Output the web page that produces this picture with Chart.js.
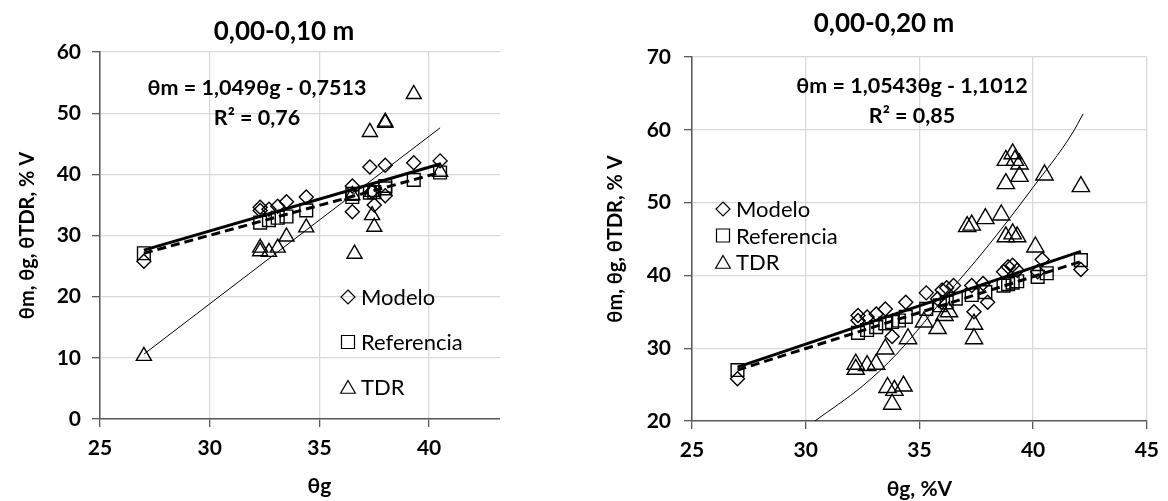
<!DOCTYPE html>
<html>
<head>
<meta charset="utf-8">
<script src="https://cdn.jsdelivr.net/npm/chart.js@4.4.1/dist/chart.umd.min.js"></script>
<style>
  body { margin: 0; background: #fff; width: 1168px; height: 501px; overflow: hidden; position: relative; }
  #leftWrap { position: absolute; left: 0; top: 0; width: 500px; height: 501px; overflow: hidden; }
  #rightWrap { position: absolute; left: 580px; top: 0; width: 588px; height: 501px; }
</style>
</head>
<body>
<div id="leftWrap"><canvas id="chartLeft" width="560" height="501"></canvas></div>
<div id="rightWrap"><canvas id="chartRight" width="588" height="501"></canvas></div>
<script>
// ---- 0,00-0,10 m ----
const leftModeloX = [27.0, 32.3, 32.3, 32.7, 33.1, 33.5, 34.4, 36.5, 36.5, 37.3, 37.4, 37.5, 38.0, 38.0, 39.3, 40.5];
const leftModeloY = [25.8, 34.6, 34.1, 34.3, 34.8, 35.5, 36.3, 38.1, 33.9, 41.2, 37.2, 35.0, 41.5, 36.5, 41.9, 42.2];
const leftRefX = [27.0, 32.3, 32.7, 33.1, 33.5, 34.4, 36.5, 36.5, 37.3, 37.5, 38.0, 38.0, 39.3, 40.5];
const leftRefY = [27.1, 32.1, 32.5, 32.9, 33.1, 34.1, 36.3, 36.8, 37.0, 37.1, 37.7, 38.1, 39.1, 40.3];
const leftTdrX = [27.0, 32.3, 32.3, 32.7, 33.1, 33.5, 34.4, 36.5, 36.6, 37.3, 37.4, 37.4, 37.5, 38.0, 38.0, 39.3, 40.5];
const leftTdrY = [10.3, 28.0, 27.4, 27.3, 28.0, 29.8, 31.3, 36.6, 27.0, 46.9, 37.1, 33.3, 31.4, 48.4, 48.6, 53.1, 40.4];
// trend lines (end points)
const leftTrendX = [27.0, 40.5];
const leftTrendModeloY = [27.6, 41.7];
const leftTrendRefY = [27.1, 40.3];
const leftTrendTdrY = [10.6, 47.6];

// ---- 0,00-0,20 m ----
const rightModeloX = [27.0, 32.3, 32.3, 32.7, 33.1, 33.5, 33.8, 34.4, 35.3, 35.8, 36.0, 36.2, 36.5, 37.3, 37.4, 37.8, 38.0, 38.7, 38.9, 39.1, 39.3, 40.2, 40.4, 42.1];
const rightModeloY = [25.8, 34.5, 33.8, 34.3, 34.7, 35.4, 31.6, 36.3, 37.6, 36.8, 38.0, 38.3, 38.6, 38.6, 35.0, 38.9, 36.3, 40.5, 41.2, 41.4, 40.7, 40.5, 42.2, 40.8];
const rightRefX = [27.0, 32.3, 32.7, 33.1, 33.5, 33.8, 34.1, 34.4, 35.3, 35.9, 36.2, 36.6, 37.3, 37.9, 38.7, 38.9, 39.1, 39.3, 40.2, 40.6, 42.1];
const rightRefY = [27.0, 32.1, 32.5, 32.9, 33.4, 33.6, 33.8, 34.3, 35.4, 35.9, 36.3, 36.8, 37.3, 37.7, 38.6, 38.8, 39.0, 39.2, 39.8, 40.3, 42.1];
const rightTdrX = [32.2, 32.2, 32.7, 33.1, 33.5, 33.6, 33.8, 33.9, 34.3, 34.5, 35.2, 35.8, 36.1, 36.3, 37.1, 37.3, 37.4, 37.4, 37.9, 38.6, 38.8, 38.8, 38.8, 39.1, 39.2, 39.4, 39.4, 39.1, 39.3, 40.1, 40.5, 42.1];
const rightTdrY = [27.8, 27.1, 27.6, 27.8, 29.9, 24.6, 22.3, 24.2, 24.8, 31.3, 33.6, 32.7, 34.5, 35.0, 46.7, 46.9, 33.3, 31.3, 47.8, 48.3, 45.3, 52.6, 55.8, 56.7, 55.8, 55.3, 53.6, 45.7, 45.3, 43.9, 53.8, 52.2];
const rightTrendX = [27.0, 42.1];
const rightTrendModeloY = [27.4, 43.3];
const rightTrendRefY = [27.0, 41.9];
// TDR trend is curved: points
const rightTrendTdrX = [30.4, 32.5, 34.0, 36.3, 37.9, 40.0, 41.7, 42.2];
const rightTrendTdrY = [20.0, 24.8, 29.2, 37.7, 43.6, 52.1, 59.4, 62.2];

const legendNames = ['Modelo', 'Referencia', 'TDR'];

const FONT = 'Lato, "Open Sans", sans-serif';
const AXIS = '#595959';
const GRID = '#d9d9d9';

function pts(xs, ys) {
    return xs.map((x, i) => ({ x: x, y: ys[i] }));
}

function markerSet(label, xs, ys, style, r) {
    return {
        label: label,
        data: pts(xs, ys),
        pointStyle: style,
        pointRadius: r,
        pointBorderColor: '#000',
        pointBackgroundColor: 'rgba(0,0,0,0)',
        pointBorderWidth: 1.4,
        showLine: false,
        order: 2
    };
}

function trendSet(xs, ys, width, dash, curved) {
    return {
        data: pts(xs, ys),
        showLine: true,
        pointRadius: 0,
        borderColor: '#000',
        borderWidth: width,
        borderDash: dash,
        cubicInterpolationMode: curved ? 'monotone' : 'default',
        fill: false,
        order: 1
    };
}

function drawMarker(ctx, style, x, y, r) {
    ctx.beginPath();
    if (style === 'rectRot') {
        ctx.moveTo(x, y - r); ctx.lineTo(x + r, y); ctx.lineTo(x, y + r); ctx.lineTo(x - r, y);
    } else if (style === 'rect') {
        ctx.rect(x - r, y - r, 2 * r, 2 * r);
    } else {
        ctx.moveTo(x, y - r); ctx.lineTo(x + r * 0.866, y + r * 0.5); ctx.lineTo(x - r * 0.866, y + r * 0.5);
    }
    ctx.closePath();
    ctx.stroke();
}

// titles, equation and legend
const textPlugin = {
    id: 'chartText',
    afterDraw(chart, args, o) {
        const ctx = chart.ctx;
        ctx.save();
        ctx.fillStyle = '#000';
        ctx.strokeStyle = '#000';
        ctx.textAlign = 'center';
        ctx.textBaseline = 'middle';
        ctx.font = 'bold 26px ' + FONT;
        ctx.fillText(o.title, o.titleX, o.titleY);
        ctx.font = 'bold 21.5px ' + FONT;
        ctx.fillText(o.eq, o.eqX, o.eqY);
        ctx.fillText(o.r2, o.eqX, o.eqY + 30);
        ctx.font = '22px ' + FONT;
        ctx.textAlign = 'left';
        ctx.lineWidth = 1.2;
        const styles = ['rectRot', 'rect', 'triangle'];
        const sizes = [7, 6.5, 8.5];
        legendNames.forEach((name, i) => {
            const y = o.legY + i * o.legGap;
            drawMarker(ctx, styles[i], o.legX, y + (i === 2 ? 2 : 0), sizes[i]);
            ctx.fillText(name, o.legX + 13, y + 1);
        });
        ctx.restore();
    }
};

function makeChart(id, cfg) {
    return new Chart(document.getElementById(id), {
        type: 'scatter',
        data: {
            datasets: [
                markerSet('Modelo', cfg.modeloX, cfg.modeloY, 'rectRot', 7),
                markerSet('Referencia', cfg.refX, cfg.refY, 'rect', 9),
                markerSet('TDR', cfg.tdrX, cfg.tdrY, 'triangle', cfg.triR),
                trendSet(cfg.trendX, cfg.trendModeloY, 3, [], false),
                trendSet(cfg.trendX, cfg.trendRefY, 3, [9, 5], false),
                trendSet(cfg.trendTdrX, cfg.trendTdrY, 1, [], cfg.curved)
            ]
        },
        options: {
            responsive: false,
            animation: false,
            layout: { padding: { left: 0, top: cfg.top, right: cfg.right, bottom: 0 } },
            plugins: {
                legend: { display: false },
                tooltip: { enabled: false },
                chartText: cfg.text
            },
            scales: {
                x: {
                    type: 'linear',
                    min: 25,
                    max: 45,
                    afterFit: s => { s.height = cfg.xHeight; },
                    ticks: { stepSize: 5, color: '#000', padding: 9, font: { family: FONT, size: 21, weight: 'bold' } },
                    grid: { color: GRID, tickColor: AXIS, tickLength: 8, lineWidth: 1.3 },
                    border: { color: AXIS, width: 1.5 },
                    title: {
                        display: true,
                        text: cfg.xTitle,
                        color: '#000',
                        font: { family: FONT, size: 21, weight: 'bold', lineHeight: 1 },
                        padding: { top: 0, bottom: cfg.xTitlePad }
                    }
                },
                y: {
                    min: cfg.yMin,
                    max: cfg.yMax,
                    afterFit: s => { s.width = cfg.yWidth; },
                    ticks: { stepSize: 10, color: '#000', padding: cfg.yTickPad, font: { family: FONT, size: 21, weight: 'bold' } },
                    grid: { color: GRID, tickColor: AXIS, tickLength: 8, lineWidth: 1.3 },
                    border: { color: AXIS, width: 1.5 },
                    title: {
                        display: true,
                        text: 'θm, θg, θTDR, % V',
                        color: '#000',
                        font: { family: FONT, size: 20, weight: 'bold', lineHeight: 1 },
                        padding: { top: cfg.yTitlePad, bottom: 0 }
                    }
                }
            }
        },
        plugins: [textPlugin]
    });
}

makeChart('chartLeft', {
    modeloX: leftModeloX, modeloY: leftModeloY,
    refX: leftRefX, refY: leftRefY,
    tdrX: leftTdrX, tdrY: leftTdrY, triR: 8.7,
    trendX: leftTrendX, trendModeloY: leftTrendModeloY, trendRefY: leftTrendRefY,
    trendTdrX: leftTrendX, trendTdrY: leftTrendTdrY, curved: false,
    yMin: 0, yMax: 60,
    top: 52, right: 12, xHeight: 82, yWidth: 100,
    xTitle: 'θg', xTitlePad: 4, yTitlePad: 18, yTickPad: 11,
    text: {
        title: '0,00-0,10 m', titleX: 284, titleY: 32,
        eq: 'θm = 1,049θg - 0,7513', r2: 'R² = 0,76', eqX: 257, eqY: 88,
        legX: 348, legY: 297, legGap: 45
    }
});

makeChart('chartRight', {
    modeloX: rightModeloX, modeloY: rightModeloY,
    refX: rightRefX, refY: rightRefY,
    tdrX: rightTdrX, tdrY: rightTdrY, triR: 10,
    trendX: rightTrendX, trendModeloY: rightTrendModeloY, trendRefY: rightTrendRefY,
    trendTdrX: rightTrendTdrX, trendTdrY: rightTrendTdrY, curved: true,
    yMin: 20, yMax: 70,
    top: 57, right: 12, xHeight: 80, yWidth: 112,
    xTitle: 'θg, %V', xTitlePad: 1, yTitlePad: 26, yTickPad: 13,
    text: {
        title: '0,00-0,20 m', titleX: 304, titleY: 24,
        eq: 'θm = 1,0543θg - 1,1012', r2: 'R² = 0,85', eqX: 332, eqY: 86,
        legX: 143, legY: 209, legGap: 26.5
    }
});
</script>
</body>
</html>
